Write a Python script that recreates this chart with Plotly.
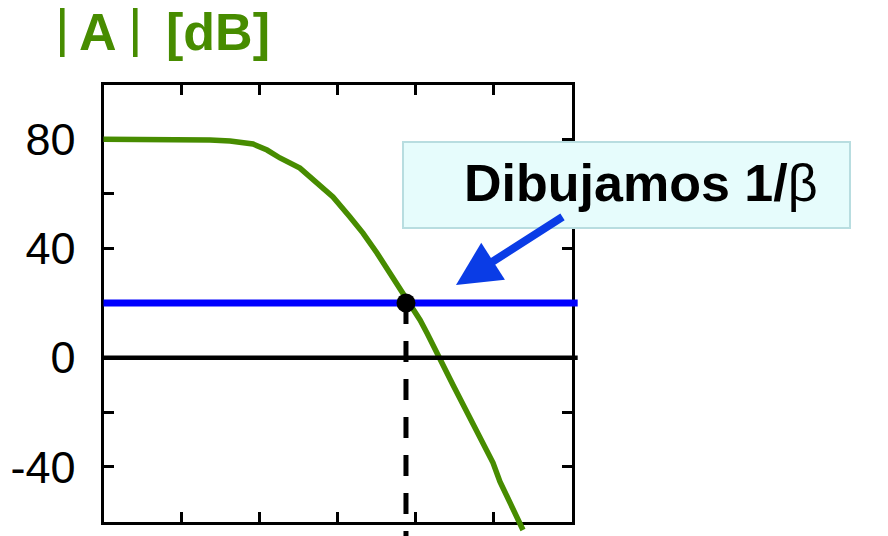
import plotly.graph_objects as go

# ---------------- data ----------------
freq_hz = [1, 12.9, 20.0, 23.2, 41.9, 82.5, 125, 183, 330, 546, 875, 1445, 2123,
           3206, 4710, 6918, 9290, 11430, 14030, 20610, 30270, 98600, 121000, 238800]
gain_db = [80, 80, 80, 79.7, 79.3, 78.2, 76.0, 73.1, 69.4, 63.9, 58.8, 51.5, 45.6,
           38.3, 31.0, 23.7, 18.2, 13.8, 9.0, -0.1, -10.0, -38.5, -45.4, -63.1]

ref_line_freq = [1, 1.2e6]          # horizontal reference lines (0 dB and 1/beta)
zero_db = [0, 0]
inv_beta_db = [20, 20]

cross_freq = [7550]                  # intersection |A| = 1/beta
cross_db = [20]
drop_freq = [7550, 7550]             # dashed drop line
drop_db = [20, -66]

x_tick_vals = [10, 100, 1e3, 1e4, 1e5]
y_tick_vals = [-40, -20, 0, 20, 40, 60, 80]
y_tick_text = ['-40', '', '0', '', '40', '', '80']

# ---------------- geometry (reference-page pixels) ----------------
REF_W, REF_H = 888, 536
OFF = 8                    # page body margin
FW, FH = REF_W - OFF, REF_H - OFF
X0, X1 = 103.5, 571.5      # inner plot area
Y0, Y1 = 84.5, 521.5
XR = [0, 6]                # decades
YR = [-60, 100]
px_dec = (X1 - X0) / (XR[1] - XR[0])
px_db = (Y1 - Y0) / (YR[1] - YR[0])
x2r = [XR[0] - (X0 - OFF) / px_dec, XR[1] + (REF_W - X1) / px_dec]
y2r = [YR[0] - (REF_H - Y1) / px_db, YR[1] + (Y0 - OFF) / px_db]


def px(x, y):
    return (x - OFF) / FW, 1 - (y - OFF) / FH


GREEN = '#478c00'
FONT = 'Liberation Sans, Arial, sans-serif'

fig = go.Figure()
# invisible anchor trace so the framed subplot is drawn
fig.add_trace(go.Scatter(x=cross_freq, y=cross_db, mode='markers',
                         marker=dict(opacity=0), hoverinfo='skip', xaxis='x', yaxis='y'))
fig.add_trace(go.Scatter(x=freq_hz, y=gain_db, mode='lines',
                         line=dict(color=GREEN, width=5.5), xaxis='x2', yaxis='y2'))
fig.add_trace(go.Scatter(x=ref_line_freq, y=zero_db, mode='lines',
                         line=dict(color='black', width=4.5), xaxis='x2', yaxis='y2'))
fig.add_trace(go.Scatter(x=ref_line_freq, y=inv_beta_db, mode='lines',
                         line=dict(color='#0000ff', width=7), xaxis='x2', yaxis='y2'))
fig.add_trace(go.Scatter(x=drop_freq, y=drop_db, mode='lines',
                         line=dict(color='black', width=5, dash='21px,17px'),
                         xaxis='x2', yaxis='y2'))
fig.add_trace(go.Scatter(x=cross_freq, y=cross_db, mode='markers',
                         marker=dict(color='black', size=19), xaxis='x2', yaxis='y2'))

axis_common = dict(ticks='inside', ticklen=10, tickwidth=3, tickcolor='black',
                   showline=True, linewidth=3, linecolor='black', mirror='ticks',
                   showgrid=False, zeroline=False, fixedrange=True, automargin=False)

dx0, dy1 = px(X0, Y0)
dx1, dy0 = px(X1, Y1)
fig.update_layout(
    width=FW, height=FH,
    margin=dict(l=0, r=0, t=0, b=0),
    paper_bgcolor='white', plot_bgcolor='rgba(0,0,0,0)',
    showlegend=False,
    xaxis=dict(domain=[dx0, dx1], type='log', range=XR, tickvals=x_tick_vals,
               showticklabels=False, anchor='y', **axis_common),
    yaxis=dict(domain=[dy0, dy1], range=YR, tickvals=y_tick_vals,
               ticktext=y_tick_text, ticklabelstandoff=16,
               tickfont=dict(family=FONT, size=45, color='black'), anchor='x',
               **axis_common),
    xaxis2=dict(domain=[0, 1], type='log', range=x2r, visible=False, anchor='y2',
                fixedrange=True),
    yaxis2=dict(domain=[0, 1], range=y2r, visible=False, anchor='x2', fixedrange=True),
)

# callout box
bx0, by0 = px(403, 228)
bx1, by1 = px(850, 142)
fig.add_shape(type='rect', xref='paper', yref='paper', x0=bx0, x1=bx1, y0=by0, y1=by1,
              fillcolor='#e6fcfc', line=dict(color='#b8dde0', width=2), layer='above')

anns = []
# title pieces
for txt, cx, cy, size in [('|', 62, 26, 56), ('<b>A</b>', 97.5, 32, 52),
                          ('|', 135, 26, 56), ('<b>[dB]</b>', 217.5, 32, 52)]:
    x, y = px(cx, cy)
    anns.append(dict(text=txt, x=x, y=y, xref='paper', yref='paper', showarrow=False,
                     xanchor='center', yanchor='middle',
                     font=dict(family=FONT, size=size, color=GREEN)))
x, y = px(641, 183)
anns.append(dict(text='<b>Dibujamos 1/</b>β', x=x, y=y, xref='paper', yref='paper',
                 showarrow=False, xanchor='center', yanchor='middle',
                 font=dict(family=FONT, size=52, color='black')))
x, y = px(456, 285)
anns.append(dict(text='', x=x, y=y, xref='paper', yref='paper', showarrow=True,
                 ax=108, ay=-69, arrowhead=2, arrowwidth=8, arrowsize=1.1,
                 arrowcolor='#0a3ce6', standoff=0))
fig.update_layout(annotations=anns)

fig.write_html('out.html')
